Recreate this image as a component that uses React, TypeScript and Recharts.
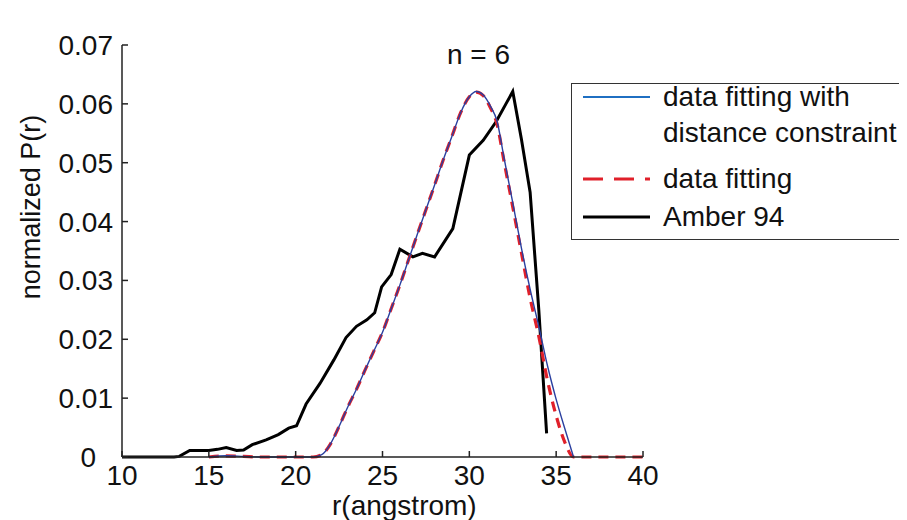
import { Line, LineChart, XAxis, YAxis } from "recharts";

// r (angstrom) and normalized P(r)
const fitConstrR = [15, 16, 17, 18, 19, 20, 21, 21.5, 22, 22.5, 23, 23.5, 24, 24.5, 25, 25.5, 26, 26.5, 27, 27.5, 28, 28.5, 29, 29.5, 30, 30.4, 30.8, 31.2, 31.6, 32, 32.5, 33, 33.5, 34, 34.5, 35, 35.5, 36];
const fitConstrP = [0, 0.0002, 0.0001, 0, 0, 0, 0, 0.0004, 0.0022, 0.0052, 0.0085, 0.0115, 0.0148, 0.018, 0.0212, 0.0252, 0.0292, 0.0335, 0.0378, 0.042, 0.0462, 0.0505, 0.0545, 0.0585, 0.0612, 0.0621, 0.0615, 0.0597, 0.057, 0.0508, 0.0432, 0.0355, 0.0285, 0.0222, 0.0155, 0.0098, 0.0048, 0];

const fitR = [15, 16, 17, 18, 19, 20, 21, 21.5, 22, 22.5, 23, 23.5, 24, 24.5, 25, 25.5, 26, 26.5, 27, 27.5, 28, 28.5, 29, 29.5, 30, 30.4, 30.8, 31.2, 31.6, 32, 32.5, 33, 33.5, 34, 34.5, 35, 35.5, 36, 37, 38, 39, 40];
const fitP = [0, 0.0002, 0.0001, 0, 0, 0, 0, 0.0004, 0.0022, 0.0052, 0.0085, 0.0115, 0.0148, 0.018, 0.0212, 0.0252, 0.0292, 0.0335, 0.0378, 0.042, 0.0462, 0.0505, 0.0545, 0.0585, 0.0612, 0.062, 0.0614, 0.0594, 0.0565, 0.0502, 0.0425, 0.0347, 0.027, 0.0205, 0.013, 0.007, 0.0025, 0, 0, 0, 0, 0];

const amberR = [10, 11, 12, 13, 13.3, 13.9, 15, 15.5, 16, 16.6, 17, 17.5, 18.3, 19, 19.6, 20.05, 20.6, 21.4, 22.2, 22.9, 23.5, 24.1, 24.55, 24.95, 25.5, 26, 26.75, 27.3, 28, 29.05, 30, 30.8, 31.55, 32.5, 33, 33.5, 34, 34.45];
const amberP = [0, 0, 0, 0, 0.0001, 0.0011, 0.0011, 0.0013, 0.0016, 0.0011, 0.0012, 0.0021, 0.0029, 0.0038, 0.0049, 0.0053, 0.009, 0.0125, 0.0165, 0.0203, 0.0222, 0.0233, 0.0245, 0.0289, 0.031, 0.0353, 0.034, 0.0346, 0.034, 0.0388, 0.0513, 0.0538, 0.057, 0.0621, 0.054, 0.045, 0.025, 0.004];

const xTicks = [10, 15, 20, 25, 30, 35, 40];
const yTicks = [0, 0.01, 0.02, 0.03, 0.04, 0.05, 0.06, 0.07];

const FONT = "'Liberation Sans', Arial, Helvetica, sans-serif";
const BLUE = "#2a3f9f";
const BLUE_KEY = "#1f6fc2";
const RED = "#e0202a";

const toPoints = (rs: number[], ps: number[]) => rs.map((r, i) => ({ r, p: ps[i] }));

// legend rows: sample line y and text rows (container coords)
const legendItems = [
  { label: ["data fitting with", "distance constraint"], color: BLUE_KEY, dash: undefined as string | undefined, width: 2, y: 89 },
  { label: ["data fitting"], color: RED, dash: "20 11", width: 3, y: 171 },
  { label: ["Amber 94"], color: "#000", dash: undefined, width: 3, y: 209 },
];

// "0" sits a bit left of the other y labels in the original
const YTick = (props: any) => {
  const { x, y, payload } = props;
  const v = payload.value as number;
  return (
    <text x={x + (v === 0 ? -17 : 0)} y={y} dy="0.355em" textAnchor="end" fill="#111" fontSize={28} fontFamily={FONT}>
      {v === 0 ? "0" : v.toFixed(2)}
    </text>
  );
};

export default function App() {
  const tickStyle = { fill: "#111", fontSize: 28, fontFamily: FONT };
  return (
    <div style={{ position: "relative", width: 891, height: 512, fontFamily: FONT, color: "#111" }}>
      <LineChart width={891} height={504} margin={{ top: 37, right: 256, bottom: 0, left: 14 }}>
        <XAxis
          type="number"
          dataKey="r"
          domain={[10, 40]}
          ticks={xTicks}
          allowDataOverflow
          height={55}
          tickSize={-6}
          tickMargin={14}
          tick={tickStyle}
          stroke="#222"
          strokeWidth={1.5}
        />
        <YAxis
          type="number"
          domain={[0, 0.07]}
          ticks={yTicks}
          width={100}
          tickSize={-6}
          tickMargin={15}
          tick={<YTick />}
          stroke="#222"
          strokeWidth={1.5}
        />
        <Line data={toPoints(amberR, amberP)} dataKey="p" type="linear" stroke="#000" strokeWidth={3} dot={false} isAnimationActive={false} />
        <Line data={toPoints(fitR, fitP)} dataKey="p" type="monotone" stroke={RED} strokeWidth={3.2} strokeDasharray="10 7" dot={false} isAnimationActive={false} />
        <Line data={toPoints(fitConstrR, fitConstrP)} dataKey="p" type="monotone" stroke={BLUE} strokeWidth={1.4} dot={false} isAnimationActive={false} />
      </LineChart>

      {/* axis titles */}
      <div style={{ position: "absolute", left: 324, top: 484, fontSize: 28, lineHeight: "28px", whiteSpace: "nowrap" }}>
        r(angstrom)
      </div>
      <div
        style={{
          position: "absolute",
          left: 23,
          top: 199,
          fontSize: 27,
          lineHeight: "27px",
          whiteSpace: "nowrap",
          transform: "translate(-50%, -50%) rotate(-90deg)",
        }}
      >
        normalized P(r)
      </div>
      <div style={{ position: "absolute", left: 439, top: 33, fontSize: 28, lineHeight: "28px", whiteSpace: "nowrap" }}>n = 6</div>

      {/* legend */}
      <div
        style={{
          position: "absolute",
          left: 563,
          top: 75,
          width: 334,
          height: 157,
          border: "1.5px solid #333",
          background: "#fff",
          boxSizing: "border-box",
        }}
      />
      {legendItems.map((it) => (
        <div key={it.label[0]}>
          <svg width={68} height={8} style={{ position: "absolute", left: 575, top: it.y - 4 }}>
            <line x1={0} x2={67} y1={4} y2={4} stroke={it.color} strokeWidth={it.width} strokeDasharray={it.dash} />
          </svg>
          {it.label.map((l, i) => (
            <div
              key={l}
              style={{
                position: "absolute",
                left: 655,
                top: it.y - 14 + i * 36,
                fontSize: 28,
                lineHeight: "28px",
                whiteSpace: "nowrap",
              }}
            >
              {l}
            </div>
          ))}
        </div>
      ))}
    </div>
  );
}
